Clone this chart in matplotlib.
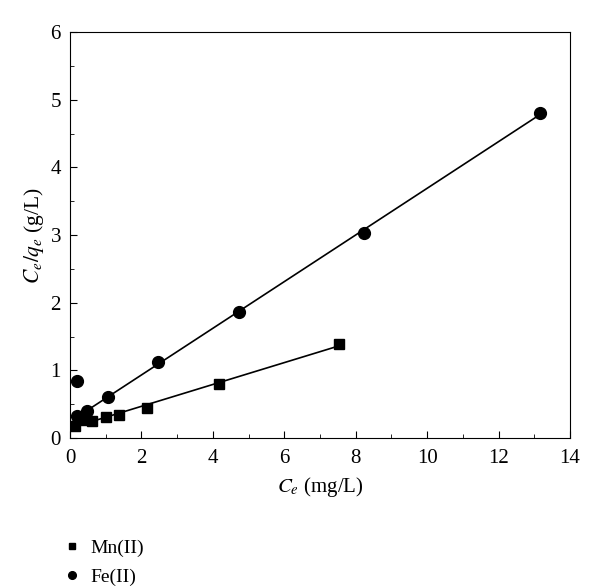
import numpy as np
import matplotlib.pyplot as plt
from matplotlib.ticker import MultipleLocator

plt.rcParams['font.family'] = ['Liberation Serif', 'DejaVu Serif']
plt.rcParams['mathtext.fontset'] = 'stix'

# Mn(II) data
mn_ce = [0.14, 0.39, 0.61, 1.01, 1.38, 2.16, 4.18, 7.54]
mn_ratio = [0.18, 0.26, 0.25, 0.31, 0.34, 0.45, 0.80, 1.39]

# Fe(II) data
fe_ce = [0.19, 0.19, 0.47, 1.07, 2.46, 4.73, 8.24, 13.15]
fe_ratio = [0.85, 0.32, 0.40, 0.61, 1.12, 1.86, 3.03, 4.81]

fig = plt.figure(figsize=(6, 5.88), dpi=100)
ax = fig.add_axes([0.1167, 0.255, 0.8333, 0.6906])

# linear fits
for xs, ys in [(mn_ce, mn_ratio), (fe_ce[1:], fe_ratio[1:])]:
    k, b = np.polyfit(xs, ys, 1)
    xx = np.array([min(xs), max(xs)])
    ax.plot(xx, k * xx + b, color='black', lw=1.2)

ax.plot(mn_ce, mn_ratio, 's', color='black', ms=7.5, ls='none', label='Mn(II)')
ax.plot(fe_ce, fe_ratio, 'o', color='black', ms=8.5, ls='none', label='Fe(II)')

ax.set_xlim(0, 14)
ax.set_ylim(0, 6)
ax.xaxis.set_major_locator(MultipleLocator(2))
ax.xaxis.set_minor_locator(MultipleLocator(1))
ax.yaxis.set_major_locator(MultipleLocator(1))
ax.yaxis.set_minor_locator(MultipleLocator(0.5))
ax.tick_params(which='both', direction='in', labelsize=15)
ax.tick_params(which='major', length=5)
ax.tick_params(which='minor', length=3)
ax.tick_params(axis='x', pad=8)
ax.tick_params(axis='y', pad=6.5)

ax.set_xlabel('$C_e$ (mg/L)', fontsize=15, labelpad=5)
ax.set_ylabel('$C_e/q_e$ (g/L)', fontsize=15.5, labelpad=3)

fig.legend(loc='upper left', bbox_to_anchor=(0.085, 0.106), frameon=False,
           fontsize=14, markerscale=0.65, handlelength=0.8, handletextpad=0.55,
           labelspacing=0.6, borderaxespad=0.3)

fig.savefig('out.png', dpi=100)
